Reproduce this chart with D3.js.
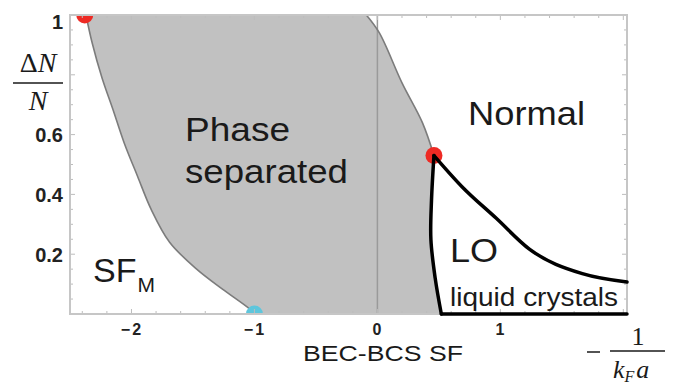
<!DOCTYPE html>
<html>
<head>
<meta charset="utf-8">
<script src="https://cdn.jsdelivr.net/npm/d3@7/dist/d3.min.js"></script>
<style>
  html, body { margin: 0; padding: 0; background: #fff; }
  svg { display: block; }
</style>
</head>
<body>
<svg id="chart" width="675" height="390"></svg>
<script>
// Phase diagram of a polarized Fermi gas: polarization ΔN/N vs −1/(k_F a)

// Axis extents and labels
const xDomain = [-2.5, 2.03];
const yDomain = [0, 1];
const xTickLabels = [-2, -1, 0, 1];
const yTickLabels = [0.2, 0.4, 0.6, 1];

// Boundary between the magnetized superfluid (SF_M) and the phase-separated region
const sfmBoundaryX = [-2.37, -2.32, -2.24, -2.15, -2.06, -1.95, -1.84, -1.69, -1.47, -1.26, -1.04, -1.0];
const sfmBoundaryY = [1.0, 0.907, 0.79, 0.683, 0.573, 0.46, 0.35, 0.24, 0.15, 0.083, 0.017, 0.0];

// Boundary between the phase-separated region and the normal phase
const normalBoundaryX = [-0.09, 0.016, 0.2, 0.366, 0.46];
const normalBoundaryY = [1.0, 0.94, 0.773, 0.64, 0.53];

// LO (liquid crystal) region: left edge, upper edge, bottom edge
const loLeftX = [0.46, 0.44, 0.435, 0.47, 0.52];
const loLeftY = [0.53, 0.38, 0.25, 0.12, 0.0];
const loUpperX = [0.46, 0.69, 0.967, 1.236, 1.667, 2.03];
const loUpperY = [0.53, 0.425, 0.32, 0.217, 0.135, 0.107];
const loBottomX = [0.52, 2.03];
const loBottomY = [0.0, 0.0];

// Special points: tricritical / Lifshitz points (red) and the SF_M endpoint (cyan)
const redPointsX = [-2.38, 0.46];
const redPointsY = [1.0, 0.53];
const cyanPointsX = [-1.0];
const cyanPointsY = [0.0];

const svg = d3.select("#chart");
const plot = { left: 70, right: 627, top: 15, bottom: 314 };

const x = d3.scaleLinear().domain(xDomain).range([plot.left, plot.right]);
const y = d3.scaleLinear().domain(yDomain).range([plot.bottom, plot.top]);

const zip = (xs, ys) => xs.map((v, i) => [v, ys[i]]);
const line = d3.line().x(d => x(d[0])).y(d => y(d[1]));
const smooth = d3.line().x(d => x(d[0])).y(d => y(d[1])).curve(d3.curveCatmullRom.alpha(0.5));
const monotone = d3.line().x(d => x(d[0])).y(d => y(d[1])).curve(d3.curveMonotoneX);

svg.append("defs").append("clipPath").attr("id", "plotClip")
  .append("rect")
  .attr("x", plot.left).attr("y", plot.top)
  .attr("width", plot.right - plot.left).attr("height", plot.bottom - plot.top);

const inner = svg.append("g").attr("clip-path", "url(#plotClip)");

// Phase-separated region (grey), bounded by the smoothed curves
const sfm = zip(sfmBoundaryX, sfmBoundaryY);
const loLeft = zip(loLeftX, loLeftY);
const normalB = zip(normalBoundaryX, normalBoundaryY);
const regionPath = [
  smooth(sfm),
  smooth(loLeft.slice().reverse()).replace(/^M/, "L"),
  smooth(normalB.slice().reverse()).replace(/^M/, "L")
].join("") + "Z";
inner.append("path")
  .attr("d", regionPath)
  .attr("fill", "#c1c1c1")
  .attr("stroke", "none");

// Vertical guide at unitarity
inner.append("line")
  .attr("x1", x(0)).attr("x2", x(0))
  .attr("y1", plot.top).attr("y2", plot.bottom)
  .attr("stroke", "#9a9a9a").attr("stroke-width", 1.5);

// Grey phase boundaries
[sfm, normalB].forEach(pts => {
  inner.append("path")
    .attr("d", smooth(pts))
    .attr("fill", "none")
    .attr("stroke", "#7c7c7c")
    .attr("stroke-width", 1.6);
});

// Tick marks on all four sides of the frame
const xMinor = d3.range(-2.4, 2.03, 0.2).map(v => +v.toFixed(2));
const yMinor = d3.range(0.05, 1.0, 0.05).map(v => +v.toFixed(2));
const tickColor = "#bdbdbd";
const tickLen = v => (Math.abs(v - Math.round(v)) < 1e-6 ? 5 : 3);
const tickLenY = v => (Math.abs(v * 5 - Math.round(v * 5)) < 1e-6 ? 5 : 3);

const ticks = svg.append("g").attr("stroke", tickColor).attr("stroke-width", 1);
xMinor.forEach(v => {
  ticks.append("line").attr("x1", x(v)).attr("x2", x(v))
    .attr("y1", plot.bottom).attr("y2", plot.bottom - tickLen(v));
  ticks.append("line").attr("x1", x(v)).attr("x2", x(v))
    .attr("y1", plot.top).attr("y2", plot.top + tickLen(v));
});
yMinor.forEach(v => {
  ticks.append("line").attr("y1", y(v)).attr("y2", y(v))
    .attr("x1", plot.left).attr("x2", plot.left + tickLenY(v));
  ticks.append("line").attr("y1", y(v)).attr("y2", y(v))
    .attr("x1", plot.right).attr("x2", plot.right - tickLenY(v));
});

// Frame
svg.append("rect")
  .attr("x", plot.left).attr("y", plot.top)
  .attr("width", plot.right - plot.left).attr("height", plot.bottom - plot.top)
  .attr("fill", "none")
  .attr("stroke", "#c6c6c6")
  .attr("stroke-width", 2);

// LO region boundaries (black)
[[loLeft, smooth], [zip(loUpperX, loUpperY), monotone], [zip(loBottomX, loBottomY), line]].forEach(([pts, gen]) => {
  svg.append("path")
    .attr("d", gen(pts))
    .attr("fill", "none")
    .attr("stroke", "#000")
    .attr("stroke-width", 3.5)
    .attr("stroke-linejoin", "round")
    .attr("stroke-linecap", "round");
});

// Special points
inner.selectAll("circle.red")
  .data(zip(redPointsX, redPointsY))
  .join("circle")
  .attr("class", "red")
  .attr("cx", d => x(d[0])).attr("cy", d => y(d[1]))
  .attr("r", 8.5)
  .attr("fill", "#ee2a24");
inner.selectAll("circle.cyan")
  .data(zip(cyanPointsX, cyanPointsY))
  .join("circle")
  .attr("class", "cyan")
  .attr("cx", d => x(d[0])).attr("cy", d => y(d[1]))
  .attr("r", 8.5)
  .attr("fill", "#5ec6dc");

// Axis tick labels
const fmtMinus = d => (d < 0 ? "\u2212" + Math.abs(d) : String(d));
const xAxis = svg.append("g")
  .attr("transform", `translate(0,${plot.bottom})`)
  .call(d3.axisBottom(x).tickValues(xTickLabels).tickSize(0).tickPadding(10).tickFormat(fmtMinus));
xAxis.select(".domain").remove();
xAxis.selectAll("text")
  .attr("font-family", "'Liberation Sans', Arial, sans-serif")
  .attr("font-weight", "bold")
  .attr("font-size", 16)
  .attr("letter-spacing", 2)
  .attr("fill", "#222");

const yAxis = svg.append("g")
  .attr("transform", `translate(${plot.left},0)`)
  .call(d3.axisLeft(y).tickValues(yTickLabels).tickSize(0).tickPadding(7).tickFormat(d => String(d)));
yAxis.select(".domain").remove();
yAxis.selectAll("text")
  .attr("font-family", "'Liberation Sans', Arial, sans-serif")
  .attr("font-weight", "bold")
  .attr("font-size", 20)
  .attr("fill", "#222")
  .attr("dy", d => (d === 1 ? "0.65em" : "0.35em"));

// Region labels
const sans = "'Liberation Sans', Arial, Helvetica, sans-serif";
const label = (txt, px, py, size, len) => {
  const t = svg.append("text")
    .attr("x", px).attr("y", py)
    .attr("font-family", sans)
    .attr("font-size", size)
    .attr("fill", "#1a1a1a")
    .text(txt);
  if (len) t.attr("textLength", len).attr("lengthAdjust", "spacingAndGlyphs");
  return t;
};
label("Phase", 185, 141, 33, 105);
label("separated", 185, 183, 33, 163);
label("Normal", 468, 125, 34, 117);
label("LO", 450, 262, 34, 48);
label("liquid crystals", 450, 306, 25, 168);

const sfmText = svg.append("text")
  .attr("x", 93).attr("y", 282)
  .attr("font-family", sans)
  .attr("font-size", 34)
  .attr("fill", "#1a1a1a");
sfmText.append("tspan").text("SF");
sfmText.append("tspan").attr("font-size", 21).attr("dy", 10).attr("dx", 1).text("M");

label("BEC-BCS SF", 303, 361, 22, 160);

// Y-axis title: ΔN / N
const serif = "'Liberation Serif', 'Times New Roman', serif";
const yTitle = svg.append("g").attr("fill", "#1a1a1a").attr("font-family", serif).attr("font-size", 28);
const dn = yTitle.append("text").attr("x", 38).attr("y", 72).attr("text-anchor", "middle");
dn.append("tspan").text("\u0394");
dn.append("tspan").attr("font-style", "italic").text("N");
yTitle.append("line").attr("x1", 13).attr("x2", 63).attr("y1", 83).attr("y2", 83)
  .attr("stroke", "#1a1a1a").attr("stroke-width", 1.5);
yTitle.append("text").attr("x", 38).attr("y", 110).attr("text-anchor", "middle")
  .attr("font-style", "italic").text("N");

// X-axis title: −1 / (k_F a)
const xTitle = svg.append("g").attr("fill", "#1a1a1a").attr("font-family", serif).attr("font-size", 26);
xTitle.append("line").attr("x1", 587).attr("x2", 600).attr("y1", 352).attr("y2", 352)
  .attr("stroke", "#1a1a1a").attr("stroke-width", 1.5);
xTitle.append("text").attr("x", 638).attr("y", 345).attr("text-anchor", "middle").text("1");
xTitle.append("line").attr("x1", 610).attr("x2", 665).attr("y1", 351).attr("y2", 351)
  .attr("stroke", "#1a1a1a").attr("stroke-width", 1.5);
const kfa = xTitle.append("text").attr("x", 613).attr("y", 378).attr("font-style", "italic");
kfa.append("tspan").text("k");
kfa.append("tspan").attr("font-size", 16).attr("dy", 4).text("F");
kfa.append("tspan").attr("dy", -4).attr("dx", 2).text("a");
</script>
</body>
</html>
